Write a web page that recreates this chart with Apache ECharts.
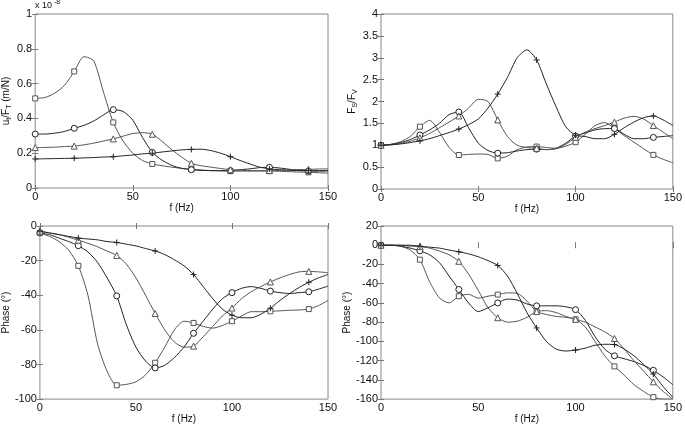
<!DOCTYPE html>
<html>
<head>
<meta charset="utf-8">
<script src="https://cdn.jsdelivr.net/npm/echarts@6/dist/echarts.min.js"></script>
<style>
html,body{margin:0;padding:0;background:#fff;}
#c{width:685px;height:425px;}
</style>
</head>
<body>
<div id="c"></div>
<script>
// Frequency grid (Hz)
const freq = [0,5,10,15,20,25,30,35,40,45,50,55,60,65,70,75,80,85,90,95,100,105,110,115,120,125,130,135,140,145,150];

// Top-left: u_t/F_T (x 1e-8 m/N)
const magSquare   = [0.515,0.52,0.545,0.59,0.67,0.755,0.73,0.55,0.377,0.27,0.2,0.158,0.138,0.128,0.12,0.113,0.108,0.104,0.1,0.098,0.097,0.097,0.097,0.097,0.097,0.096,0.094,0.092,0.09,0.088,0.085];
const magCircle   = [0.31,0.31,0.315,0.325,0.343,0.36,0.385,0.42,0.45,0.44,0.39,0.29,0.205,0.16,0.13,0.113,0.105,0.101,0.1,0.1,0.1,0.105,0.11,0.117,0.119,0.115,0.108,0.102,0.097,0.097,0.098];
const magTriangle = [0.232,0.233,0.235,0.238,0.241,0.248,0.258,0.27,0.282,0.298,0.313,0.318,0.309,0.268,0.22,0.178,0.142,0.128,0.12,0.112,0.105,0.102,0.1,0.1,0.1,0.102,0.104,0.106,0.107,0.109,0.11];
const magPlus     = [0.167,0.168,0.169,0.17,0.171,0.173,0.175,0.178,0.18,0.185,0.19,0.196,0.2,0.207,0.213,0.219,0.222,0.223,0.215,0.2,0.18,0.158,0.138,0.12,0.11,0.105,0.102,0.1,0.1,0.1,0.1];

// Top-right: F_S/F_V
const ratioSquare   = [1,1.02,1.08,1.2,1.424,1.57,1.3,0.95,0.777,0.79,0.8,0.79,0.7,0.75,0.9,0.96,0.97,0.95,0.93,0.98,1.07,1.25,1.45,1.52,1.39,1.22,1.07,0.92,0.78,0.68,0.6];
const ratioCircle   = [1,1.02,1.06,1.13,1.234,1.35,1.5,1.7,1.76,1.4,1.05,0.88,0.82,0.83,0.87,0.9,0.91,0.9,0.93,1.05,1.21,1.28,1.35,1.38,1.38,1.25,1.15,1.15,1.18,1.2,1.22];
const ratioTriangle = [1,1.01,1.04,1.09,1.17,1.27,1.4,1.53,1.67,1.85,2.05,2.0,1.58,1.2,1.0,0.95,0.93,0.9,0.92,1.02,1.18,1.3,1.38,1.45,1.53,1.62,1.66,1.6,1.45,1.3,1.15];
const ratioPlus     = [1,1.01,1.03,1.06,1.1,1.15,1.22,1.29,1.37,1.47,1.6,1.85,2.17,2.55,3.0,3.18,2.95,2.4,1.88,1.42,1.23,1.2,1.15,1.15,1.25,1.4,1.53,1.63,1.67,1.58,1.45];

// Bottom-left: Phase (deg)
const phLSquare   = [-4,-6,-9,-14,-23,-40,-68,-84,-92,-91.5,-90,-86,-79,-70,-60,-55,-56,-58,-59,-57.5,-55,-52,-49.5,-49.5,-49.3,-49,-48.7,-48.5,-48,-46,-43];
const phLCircle   = [-4,-5,-7,-9,-11.4,-15,-21,-30,-40.4,-57,-70,-78,-82,-80.5,-76,-70,-62,-55,-48,-42,-38.5,-36,-35,-36,-37.6,-38.5,-39,-38.5,-38,-36.5,-34.7];
const phLTriangle = [-3,-4,-5,-6.5,-8.2,-10,-12,-14.5,-17,-22,-30,-40,-50.5,-60,-67,-70,-69.4,-64,-58,-52,-47.4,-42,-38,-35,-32.3,-30,-28,-26.5,-26.2,-26.5,-27];
const phLPlus     = [-3,-4,-5,-6,-7,-7.5,-8,-9,-9.5,-10.5,-11.5,-13,-14.4,-16.5,-19.5,-23,-28,-35,-42,-48,-51.5,-53,-53,-51,-47.5,-43,-39,-35.5,-32.5,-30,-28];

// Bottom-right: Phase (deg)
const phRSquare   = [0,0,-1,-5,-15,-38,-54.7,-60,-53,-51,-55,-53,-51.3,-49.5,-50,-58,-69,-72,-74,-75,-77,-85,-100,-115,-126,-135,-145,-152,-158,-160,-160];
const phRCircle   = [0,0,-1,-3,-5.8,-10,-18,-32,-46,-60,-69,-65,-60,-56,-57,-61,-63,-63,-63,-64,-67,-78,-95,-108,-115,-118,-121,-125,-130,-137,-145];
const phRTriangle = [0,0,0,-1,-1.4,-3,-6,-10,-16.7,-30,-47,-65,-75.4,-80,-79,-75,-69,-68,-70,-74,-77,-80,-85,-90,-97,-108,-120,-131,-142,-152,-160];
const phRPlus     = [0,0,0,0,-1,-2,-3,-5,-6.8,-9,-12,-16,-21,-32,-50,-70,-86,-100,-108,-110,-109,-107,-104,-103,-103.3,-108,-115,-124,-134,-147,-158];

const FONT = '"Liberation Sans", Arial, sans-serif';
const PLUS = 'path://M5,0L5,10M0,5L10,5';

const grids = [
  {left:32, top:14, width:296, height:174},
  {left:381, top:14, width:296, height:175},
  {left:32, top:226, width:296, height:176},
  {left:381, top:226, width:296, height:177}
];
const yCfg = [
  {min:0, max:1, interval:0.2},
  {min:0, max:4, interval:0.5},
  {min:-100, max:0, interval:20},
  {min:-160, max:20, interval:20}
];
const yNames = [
  '{a|u}{s|t}{a|/F}{s|T}{a| (m/N)}',
  '{a|F}{s|S}{a|/F}{s|V}',
  '{a|Phase (°)}',
  '{a|Phase (°)}'
];
const yGaps = [20, 22, 20, 22];

const richName = {
  a:{fontSize:10, fontFamily:FONT, color:'#111', lineHeight:14, verticalAlign:'middle'},
  s:{fontSize:7, fontFamily:FONT, color:'#111', lineHeight:8, verticalAlign:'bottom'}
};

const xAxes = [], yAxes = [];
for (let i = 0; i < 4; i++) {
  xAxes.push({
    gridIndex:i, type:'value', min:0, max:150, interval:50,
    axisLine:{show:false}, splitLine:{show:false},
    axisTick:{inside:true, length:3, lineStyle:{color:'#777'}},
    axisLabel:{fontSize:11, fontFamily:FONT, color:'#111', margin:3},
    name:'f (Hz)', nameLocation:'middle', nameGap:13,
    nameTextStyle:{fontSize:10, fontFamily:FONT, color:'#111'}
  });
  yAxes.push({
    gridIndex:i, type:'value', min:yCfg[i].min, max:yCfg[i].max, interval:yCfg[i].interval,
    axisLine:{show:false}, splitLine:{show:false},
    axisTick:{inside:true, length:3, lineStyle:{color:'#777'}},
    axisLabel:{fontSize:11, fontFamily:FONT, color:'#111', margin:3},
    name:yNames[i], nameLocation:'middle', nameGap:yGaps[i],
    nameTextStyle:{rich:richName}
  });
}
for (let i = 0; i < 4; i++) {
  xAxes.push({
    gridIndex:i, type:'value', position:'top', min:0, max:150, interval:50,
    axisLine:{show:false}, splitLine:{show:false}, axisLabel:{show:false},
    axisTick:{inside:true, length:3, lineStyle:{color:'#777'}}
  });
  yAxes.push({
    gridIndex:i, type:'value', position:'right', min:yCfg[i].min, max:yCfg[i].max, interval:yCfg[i].interval,
    axisLine:{show:false}, splitLine:{show:false}, axisLabel:{show:false},
    axisTick:{inside:true, length:3, lineStyle:{color:'#777'}}
  });
}

function mk(gi, vals, sym, color, size) {
  const isPlus = sym === PLUS;
  return {
    type:'line', xAxisIndex:gi, yAxisIndex:gi,
    data: freq.map((f, k) => [f, vals[k]]),
    smooth:0.25, showAllSymbol:true,
    symbol: (v) => (v[0] % 20 === 0 ? sym : 'none'),
    symbolSize:size,
    lineStyle:{color:color, width:1},
    itemStyle:{color: isPlus ? 'rgba(0,0,0,0)' : '#fff', borderColor:color, borderWidth:1},
    emphasis:{disabled:true},
    z: 3
  };
}

const setList = [
  [magSquare, magCircle, magTriangle, magPlus],
  [ratioSquare, ratioCircle, ratioTriangle, ratioPlus],
  [phLSquare, phLCircle, phLTriangle, phLPlus],
  [phRSquare, phRCircle, phRTriangle, phRPlus]
];
const syms = ['rect','circle','triangle', PLUS];
const sizes = [5, 6, 6, 6];
const cols = ['#555','#222','#555','#222'];
const series = [];
setList.forEach((set, gi) => {
  set.forEach((vals, si) => series.push(mk(gi, vals, syms[si], cols[si], sizes[si])));
});

const chart = echarts.init(document.getElementById('c'), null, {renderer:'canvas'});
chart.setOption({
  animation:false,
  backgroundColor:'#fff',
  grid: grids.map(g => Object.assign({show:true, borderColor:'#888', borderWidth:1, backgroundColor:'transparent', containLabel:false}, g)),
  xAxis: xAxes,
  yAxis: yAxes,
  series: series,
  graphic: [
    {type:'text', left:35, top:1, style:{text:'x 10', fontSize:9, fontFamily:FONT, fill:'#111'}},
    {type:'text', left:54, top:-1, style:{text:'-8', fontSize:7, fontFamily:FONT, fill:'#111'}}
  ]
});
</script>
</body>
</html>
